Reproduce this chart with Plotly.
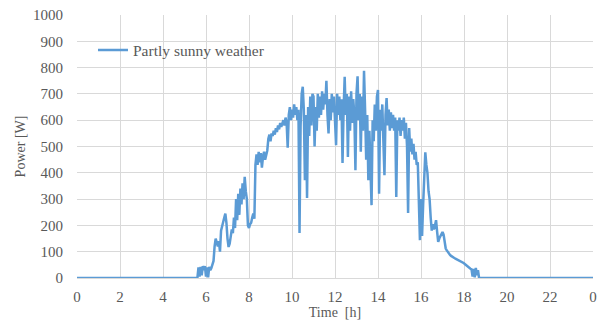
import plotly.graph_objects as go

# Logged power samples (W), one every 0.05 h starting at 5.60 h
start_hour = 5.60
step_hour = 0.05
power = [
    # 5.60 - 5.95
    0, 40, 5, 42, 10, 45, 30, 45,
    # 6.00 - 6.95
    5, 40, 2, 42, 30, 38, 50, 65, 120, 150, 135, 120, 140, 100, 180, 200, 215, 230, 245, 210,
    # 7.00 - 7.95
    150, 118, 130, 160, 185, 170, 230, 190, 300, 220, 320, 240, 340, 280, 360, 300, 385, 330, 300, 200,
    # 8.00 - 8.95
    190, 205, 210, 230, 245, 225, 430, 470, 430, 480, 440, 475, 420, 460, 480, 450, 470, 485, 530, 545,
    # 9.00 - 9.95
    520, 550, 540, 560, 545, 570, 555, 580, 565, 590, 575, 590, 600, 580, 610, 590, 495, 620, 650, 600,
    # 10.00 - 10.95
    640, 610, 660, 620, 650, 600, 640, 171, 580, 700, 727, 640, 372, 620, 304, 650, 540, 690, 580, 700,
    # 11.00 - 11.95
    690, 500, 650, 560, 700, 610, 690, 620, 710, 640, 700, 660, 750, 620, 550, 680, 600, 700, 630, 690,
    # 12.00 - 12.95
    600, 505, 700, 620, 690, 600, 680, 437, 640, 765, 620, 700, 460, 690, 560, 710, 590, 680, 620, 410,
    # 13.00 - 13.95
    700, 767, 600, 700, 480, 690, 560, 788, 640, 450, 620, 372, 560, 400, 277, 600, 520, 660, 560, 690,
    # 14.00 - 14.95
    715, 320, 640, 560, 660, 520, 391, 620, 684, 580, 640, 560, 630, 570, 620, 560, 610, 308, 600, 560,
    # 15.00 - 15.95
    610, 540, 600, 560, 610, 530, 590, 500, 247, 570, 480, 530, 470, 510, 450, 480, 430, 440, 260, 144,
    # 16.00 - 16.95
    300, 160, 280, 420, 478, 430, 400, 330, 300, 230, 180, 205, 185, 200, 220, 175, 137, 150, 160, 172,
    # 17.00 - 17.95
    175, 165, 130, 112, 105, 98, 92, 88, 84, 80, 78, 76, 74, 72, 70, 68, 66, 64, 61, 58,
    # 18.00 - 18.70
    56, 52, 48, 45, 42, 38, 35, 33, 5, 35, 2, 38, 10, 30, 0,
]
hours = [round(start_hour + step_hour * i, 2) for i in range(len(power))]

# night hours with zero output
hours = [0.0] + hours + [24.0]
power = [0] + power + [0]

x_tick_vals = [0, 2, 4, 6, 8, 10, 12, 14, 16, 18, 20, 22, 24]
x_tick_text = ["0", "2", "4", "6", "8", "10", "12", "14", "16", "18", "20", "22", "0"]
series_name = "Partly sunny weather"

font_family = "Liberation Serif"
grey = "#595959"
grid = "#d9d9d9"
tick_font = dict(family=font_family, size=15, color=grey)

fig = go.Figure()
fig.add_trace(go.Scatter(
    x=hours, y=power, mode="lines", name=series_name,
    line=dict(color="#5B9BD5", width=2.5),
))

fig.update_layout(
    width=603, height=329,
    margin=dict(l=77, r=10, t=15, b=51),
    paper_bgcolor="white", plot_bgcolor="white",
    font=dict(family=font_family, size=14, color=grey),
    showlegend=True,
    legend=dict(
        x=0.031, y=0.93, xanchor="left", yanchor="top",
        bgcolor="rgba(0,0,0,0)", font=dict(family=font_family, size=15.5, color=grey),
        itemwidth=30,
    ),
)
fig.update_xaxes(
    range=[0, 24], tickvals=x_tick_vals, ticktext=x_tick_text,
    showgrid=True, gridcolor=grid, gridwidth=1, zeroline=False,
    showline=True, linecolor=grid, ticks="", ticklabelstandoff=5,
    tickfont=tick_font, automargin=False, ticklabeloverflow="allow",
    title=dict(text="Time  [h]", font=dict(family=font_family, size=14, color=grey), standoff=1),
)
fig.update_yaxes(
    range=[0, 1000], dtick=100,
    showgrid=True, gridcolor=grid, gridwidth=1, zeroline=False,
    showline=False, ticks="", ticklabelstandoff=13,
    tickfont=tick_font, automargin=False, ticklabeloverflow="allow",
    title=dict(text="Power [W]", font=dict(family=font_family, size=14, color=grey), standoff=4),
)

# remove the page's default body margin so the figure fills the window exactly
fig.write_html(
    "out.html",
    config={"displayModeBar": False},
    post_script="document.body.style.margin='0';",
)
